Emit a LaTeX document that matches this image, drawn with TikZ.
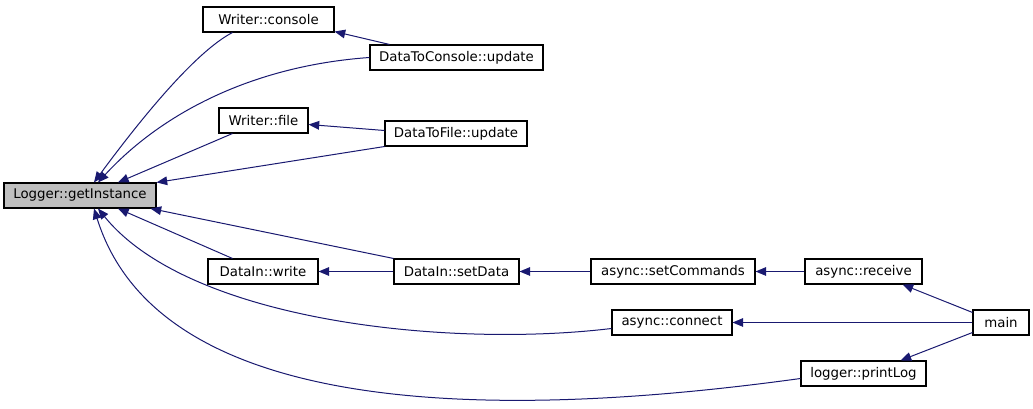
\documentclass[tikz,border=0pt]{standalone}
\usepackage{fontspec}
\setmainfont{DejaVu Sans}
\usetikzlibrary{arrows.meta,calc}
\definecolor{Navy}{HTML}{191970}
\definecolor{RootGrey}{HTML}{BFBFBF}

\begin{document}
\begin{tikzpicture}[x=0.75pt,y=-0.75pt,
    fn/.style={draw=black,line width=0.8pt,fill=white,inner sep=0pt,
      minimum height=18.75pt,font=\fontsize{10}{12}\selectfont},
    root/.style={fn,fill=RootGrey},
    wd/.style={minimum width=#1*0.75pt},
    call/.style={draw=Navy,line width=0.75pt,
      -{Triangle[length=8pt,width=6.5pt]}}]
    \useasboundingbox (0,0) rectangle (1033,409);

    % Callee
    \node[root,wd=152] (logger) at (80,195.5) {Logger::getInstance};

    % Upper branch
    \node[fn,wd=131] (wcons) at (268.5,19.5) {Writer::console};
    \node[fn,wd=173] (dcons) at (456.5,57.5) {DataToConsole::update};
    \node[fn,wd=89]  (wfile) at (263.5,120.5) {Writer::file};
    \node[fn,wd=142] (dfile) at (456,133.5) {DataToFile::update};

    % Lower branch
    \node[fn,wd=110] (dwrite) at (263,271.5) {DataIn::write};
    \node[fn,wd=125] (dset)   at (456.5,271.5) {DataIn::setData};
    \node[fn,wd=164] (setcmd) at (673,271.5) {async::setCommands};
    \node[fn,wd=117] (recv)   at (863.5,271.5) {async::receive};
    \node[fn,wd=120] (conn)   at (672,322.5) {async::connect};
    \node[fn,wd=56]  (main)   at (1001,322.5) {main};
    \node[fn,wd=125] (plog)   at (863.5,373.5) {logger::printLog};

    % Calls into the logger
    \draw[call] ($(wcons.south west)+(30,0)$) .. controls (195,52) and (140,120) .. ($(logger.north)+(14,0)$);
    \draw[call] (dcons.west) .. controls (250,66) and (160,115) .. ($(logger.north)+(18,0)$);
    \draw[call] ($(wfile.south west)+(14,0)$) -- ($(logger.north)+(38,0)$);
    \draw[call] (dfile.south west) -- (logger.north east);
    \draw[call] ($(dwrite.north west)+(25,0)$) -- ($(logger.south)+(38,0)$);
    \draw[call] (dset.north west) -- ($(logger.south east)+(-6,0)$);
    \draw[call] ($(conn.west)+(0,6)$) .. controls (450,348) and (190,322) .. ($(logger.south)+(18,0)$);
    \draw[call] ($(plog.west)+(0,5)$) .. controls (500,420) and (160,420) .. ($(logger.south)+(14,0)$);

    % Other calls
    \draw[call] ($(dcons.north west)+(20,0)$) -- ($(wcons.south east)+(0,-1)$);
    \draw[call] ($(dfile.west)+(0,-3)$) -- ($(wfile.east)+(0,4)$);
    \draw[call] (dset.west) -- (dwrite.east);
    \draw[call] (setcmd.west) -- (dset.east);
    \draw[call] (recv.west) -- (setcmd.east);
    \draw[call] ($(main.north west)+(0,3)$) -- ($(recv.south east)+(-20,0)$);
    \draw[call] (main.west) -- (conn.east);
    \draw[call] ($(main.south west)+(0,-3)$) -- ($(plog.north east)+(-26,0)$);
\end{tikzpicture}
\end{document}
